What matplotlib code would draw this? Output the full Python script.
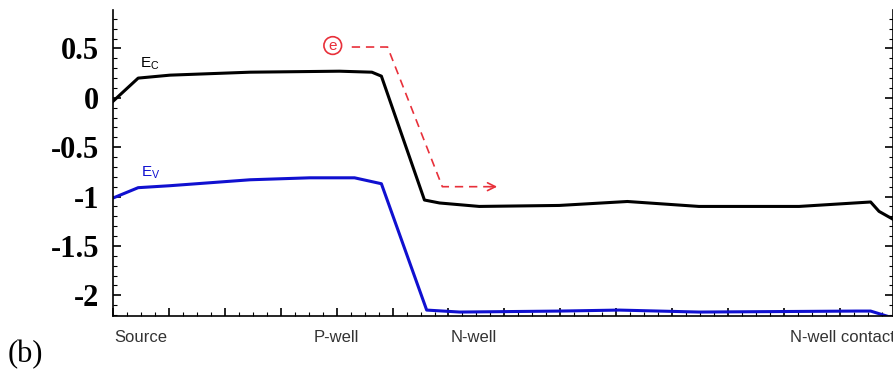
import matplotlib
matplotlib.use("Agg")
import matplotlib.pyplot as plt
from matplotlib.ticker import MultipleLocator

# band edges (x in arbitrary position units)
ec_x = [0, 0.45, 1.02, 2.45, 4.05, 4.63, 4.80, 5.57, 5.84, 6.55, 7.98, 9.2, 10.48, 12.27, 13.55, 13.7, 13.95]
ec_y = [-0.035, 0.20, 0.23, 0.26, 0.27, 0.26, 0.22, -1.035, -1.065, -1.10, -1.09, -1.05, -1.10, -1.10, -1.055, -1.15, -1.23]

ev_x = [0, 0.45, 1.02, 2.45, 3.52, 4.32, 4.80, 5.61, 6.2, 8.0, 9.05, 10.48, 13.3, 13.55, 13.95]
ev_y = [-1.015, -0.91, -0.89, -0.83, -0.81, -0.81, -0.87, -2.15, -2.17, -2.16, -2.15, -2.17, -2.16, -2.16, -2.23]

# electron path
path_x = [4.27, 4.91, 5.89, 6.75]
path_y = [0.515, 0.515, -0.90, -0.90]

region_names = ["Source", "P-well", "N-well", "N-well contact"]
region_pos = [0.5, 4.0, 6.45, 12.1]

fig = plt.figure(figsize=(8.93, 3.85), dpi=100)
ax = fig.add_axes([113/893, 69/385, 780/893, 306/385])

ax.plot(ec_x, ec_y, color="black", lw=2.2)
ax.plot(ev_x, ev_y, color="#1010d0", lw=2.2)

red = "#e8303a"
ax.plot(path_x, path_y, color=red, lw=1.2, ls=(0, (5, 3.5)))
ax.annotate("", xy=(6.92, -0.90), xytext=(6.7, -0.90),
            arrowprops=dict(arrowstyle="->", color=red, lw=1.2, mutation_scale=14))
ax.text(3.93, 0.53, "e", color=red, fontsize=11, ha="center", va="center",
        family="Liberation Sans",
        bbox=dict(boxstyle="circle,pad=0.12", fc="none", ec=red, lw=1.2))

ax.text(0.48, 0.31, r"E$\mathregular{_C}$", fontsize=11, family="Liberation Sans", color="black")
ax.text(0.5, -0.80, r"E$\mathregular{_V}$", fontsize=11, family="Liberation Sans", color="#1010d0")

ax.set_xlim(0, 13.95)
ax.set_ylim(-2.21, 0.89)

ax.xaxis.set_major_locator(MultipleLocator(1))
ax.xaxis.set_minor_locator(MultipleLocator(0.25))
ax.yaxis.set_major_locator(MultipleLocator(0.5))
ax.yaxis.set_minor_locator(MultipleLocator(0.1))
ax.tick_params(which="both", direction="in", right=True, top=False, labelbottom=False)
ax.tick_params(which="major", length=6, width=1.2)
ax.tick_params(which="minor", length=3, width=0.8)
ax.tick_params(axis="y", pad=10)
ax.spines["top"].set_visible(False)
for s in ["left", "bottom", "right"]:
    ax.spines[s].set_linewidth(1.2)

ax.set_yticks([0.5, 0, -0.5, -1, -1.5, -2])
ax.set_yticklabels(["0.5", "0", "-0.5", "-1", "-1.5", "-2"],
                   fontsize=22, fontweight="bold", family="Liberation Serif")

for name, pos in zip(region_names, region_pos):
    ha = "left" if name == "N-well contact" else "center"
    ax.text(pos, -0.07, name, transform=ax.get_xaxis_transform(), ha=ha, va="center",
            fontsize=12, family="Liberation Sans", color="#333333", clip_on=False)

fig.text(25/893, 1 - 355/385, "(b)", fontsize=22, family="Liberation Serif",
         ha="center", va="center")

fig.savefig("out.png", dpi=100)
